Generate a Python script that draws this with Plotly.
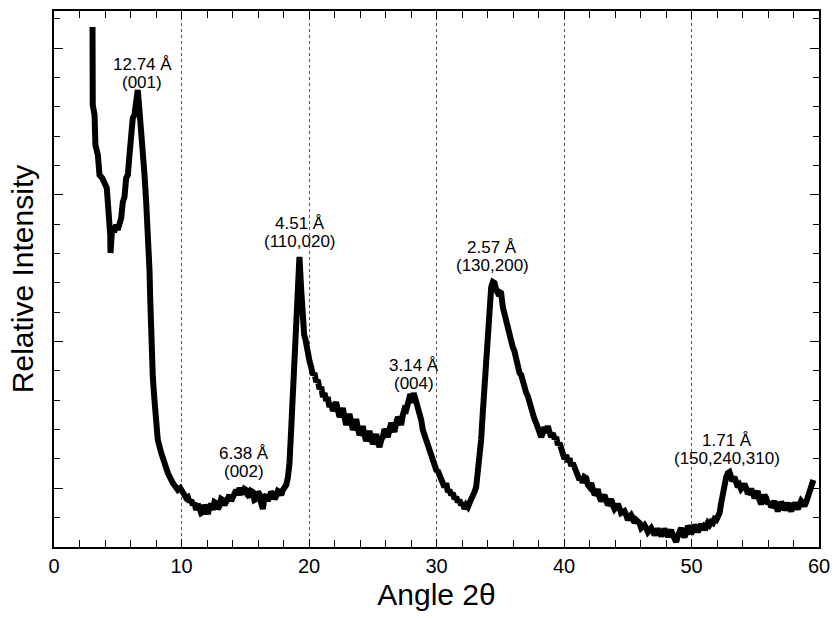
import plotly.graph_objects as go

# Diffraction pattern: angle 2theta (deg) and relative intensity (arbitrary units)
# each source line of angle_2theta corresponds to the same line of intensity
angle_2theta = [
    3.02, 3.04, 3.18, 3.25, 3.44, 3.57, 3.78, 3.96, 4.14, 4.22, 4.35, 4.41, 4.43,
    4.56, 4.71, 4.88, 5.00, 5.14, 5.27, 5.40, 5.53, 5.66, 5.79, 5.92, 6.05, 6.18,
    6.31, 6.45, 6.57, 6.65, 6.71, 6.84, 6.96, 7.10, 7.23, 7.36, 7.41, 7.49, 7.55,
    7.62, 7.75, 7.88, 8.02, 8.14, 8.41, 8.67, 8.93, 9.32, 9.71, 9.90, 10.10, 10.24,
    10.37, 10.50, 10.63, 10.76, 10.89, 11.02, 11.15, 11.28, 11.41, 11.54, 11.67, 11.80,
    11.94, 12.07, 12.20, 12.33, 12.45, 12.58, 12.72, 12.85, 12.98, 13.11, 13.24, 13.37,
    13.50, 13.63, 13.76, 13.89, 14.02, 14.15, 14.29, 14.42, 14.55, 14.68, 14.81, 14.94,
    15.07, 15.20, 15.33, 15.46, 15.59, 15.72, 15.86, 15.99, 16.12, 16.25, 16.38, 16.51,
    16.64, 16.77, 16.90, 17.03, 17.16, 17.30, 17.43, 17.56, 17.69, 17.82, 17.95, 18.08,
    18.21, 18.34, 18.47, 18.60, 18.73, 18.86, 19.00, 19.12, 19.25, 19.39,
    19.51, 19.62, 19.73, 19.82, 19.91, 20.04, 20.17, 20.30, 20.43, 20.56, 20.69, 20.82,
    20.96, 21.09, 21.22, 21.35, 21.47, 21.60, 21.74, 21.87, 22.00, 22.13, 22.26, 22.40,
    22.53, 22.65, 22.78, 22.91, 23.04, 23.17, 23.31, 23.44, 23.57, 23.70, 23.83, 23.96,
    24.09, 24.22, 24.35, 24.48, 24.61, 24.74, 24.88, 25.01, 25.14, 25.27, 25.40, 25.53,
    25.66, 25.79, 25.92, 26.05, 26.18, 26.31, 26.44, 26.57, 26.70, 26.84, 26.97, 27.10,
    27.23, 27.36, 27.49, 27.62, 27.75, 27.88, 27.95, 28.01, 28.08, 28.14, 28.21, 28.30,
    28.41, 28.53, 28.67, 28.80, 28.93, 29.06, 29.19, 29.32, 29.45, 29.58, 29.71, 29.84,
    29.98, 30.11, 30.24, 30.37, 30.49, 30.62, 30.76, 30.89, 31.02, 31.15, 31.28, 31.41,
    31.55, 31.67, 31.80, 31.93, 32.06, 32.20, 32.33, 32.46, 32.59, 32.72, 32.85, 32.98,
    33.11, 33.37, 33.50, 33.63, 33.76, 33.90, 34.02, 34.16, 34.29, 34.42, 34.55, 34.68,
    34.81, 34.94, 35.07, 35.20, 35.27, 35.33, 35.40, 35.46, 35.60, 35.73, 35.85, 35.98,
    36.11, 36.25, 36.38, 36.51, 36.64, 36.77, 36.90, 37.04, 37.16, 37.29, 37.42, 37.55,
    37.68, 37.82, 37.95, 38.08, 38.21, 38.34, 38.47, 38.60, 38.73, 38.86, 38.99, 39.12,
    39.26, 39.39, 39.52, 39.65, 39.78, 39.91, 40.04, 40.17, 40.30, 40.43, 40.56, 40.69,
    40.82, 40.96, 41.09, 41.22, 41.35, 41.47, 41.60, 41.74, 41.87, 42.00, 42.13, 42.26,
    42.40, 42.53, 42.65, 42.78, 42.91, 43.04, 43.17, 43.31, 43.44, 43.57, 43.70, 43.83,
    43.96, 44.09, 44.22, 44.35, 44.48, 44.61, 44.74, 44.88, 45.01, 45.14, 45.27, 45.40,
    45.53, 45.66, 45.79, 45.92, 46.05, 46.18, 46.31, 46.45, 46.58, 46.71, 46.84, 46.97,
    47.10, 47.23, 47.36, 47.49, 47.62, 47.75, 47.88, 48.02, 48.15, 48.27, 48.40, 48.53,
    48.67, 48.80, 48.93, 49.06, 49.19, 49.32, 49.45, 49.59, 49.72, 49.84, 49.97, 50.10,
    50.23, 50.37, 50.50, 50.63, 50.76, 50.89, 51.02, 51.15, 51.28, 51.41, 51.54, 51.67,
    51.80, 51.94, 52.07, 52.20, 52.33, 52.45, 52.59, 52.72, 52.85, 52.98, 53.11, 53.18,
    53.24, 53.37, 53.50, 53.63, 53.76, 53.89, 54.02, 54.15, 54.29, 54.42, 54.55, 54.68,
    54.81, 54.94, 55.07, 55.20, 55.33, 55.46, 55.59, 55.72, 55.86, 55.99, 56.12, 56.25,
    56.38, 56.51, 56.64, 56.77, 56.90, 57.03, 57.16, 57.30, 57.43, 57.56, 57.69, 57.82,
    57.95, 58.08, 58.21, 58.34, 58.47, 58.60, 58.73, 58.86, 59.00, 59.12, 59.25, 59.38,
    59.47, 59.56,
]
intensity = [
    520, 442, 432, 402, 392, 372, 369, 365, 359, 345, 325, 312, 294,
    319, 315, 322, 317, 325, 329, 345, 350, 369, 372, 392, 412, 429,
    432, 445, 457, 445, 432, 419, 399, 372, 345, 319, 297, 277, 247,
    204, 170, 147, 124, 107, 94, 84, 74, 64, 57, 59, 54, 52,
    49, 50, 45, 47, 42, 44, 37, 43, 40, 34, 35, 42,
    38, 33, 40, 43, 37, 45, 44, 38, 41, 48, 47, 42,
    45, 50, 52, 46, 50, 55, 57, 52, 59, 55, 53, 58,
    57, 52, 50, 56, 55, 47, 48, 55, 53, 44, 38, 50,
    52, 46, 49, 55, 53, 48, 51, 56, 55, 52, 57, 60,
    62, 69, 84, 117, 150, 197, 237, 270, 290, 257,
    224, 212, 207, 198, 194, 186, 180, 172, 174, 165, 167, 158,
    160, 150, 154, 146, 150, 140, 144, 136, 140, 145, 137, 130,
    134, 139, 130, 122, 127, 133, 125, 117, 122, 128, 119, 112,
    115, 121, 112, 106, 110, 116, 109, 103, 107, 113, 105, 100,
    107, 110, 118, 114, 110, 117, 124, 120, 115, 124, 130, 127,
    122, 132, 138, 137, 143, 147, 153, 149, 144, 149, 154, 150,
    145, 140, 137, 127, 117, 112, 104, 99, 94, 91, 87, 82,
    77, 76, 72, 70, 67, 60, 64, 55, 57, 52, 54, 48,
    50, 45, 47, 42, 44, 38, 42, 40, 44, 47, 50, 55,
    60, 87, 107, 134, 160, 187, 220, 244, 260, 265, 264, 257,
    254, 255, 254, 240, 236, 234, 229, 227, 222, 214, 208, 200,
    196, 187, 182, 174, 172, 164, 160, 154, 151, 144, 140, 134,
    128, 124, 119, 117, 110, 114, 120, 114, 121, 115, 110, 114,
    108, 110, 102, 104, 98, 97, 88, 92, 85, 89, 81, 84,
    79, 74, 70, 67, 70, 64, 70, 69, 62, 60, 64, 57,
    52, 54, 58, 50, 46, 49, 52, 47, 42, 44, 48, 42,
    38, 40, 43, 39, 34, 35, 36, 32, 27, 30, 32, 29,
    24, 27, 25, 24, 19, 20, 22, 19, 15, 17, 19, 16,
    12, 15, 18, 15, 11, 14, 18, 15, 10, 14, 17, 12,
    9, 5, 11, 14, 19, 13, 10, 14, 21, 19, 13, 17,
    22, 19, 15, 19, 23, 17, 21, 20, 24, 22, 25, 24,
    28, 27, 30, 34, 44, 54, 64, 70, 74, 75, 70, 66,
    67, 70, 65, 60, 62, 58, 60, 63, 59, 53, 55, 58,
    54, 49, 52, 56, 47, 43, 47, 52, 49, 43, 45, 40,
    42, 46, 40, 36, 40, 45, 42, 37, 40, 44, 39, 36,
    40, 44, 41, 38, 42, 46, 44, 41, 45, 50, 57, 64,
    66, 67,
]

# Peak labels (d-spacing and Miller indices)
peak_x = [6.94, 14.94, 19.33, 28.2, 34.39, 52.75]
peak_y = [474, 84.5, 315, 173, 291, 97.5]
peak_d = ["12.74 Å", "6.38 Å", "4.51 Å", "3.14 Å", "2.57 Å", "1.71 Å"]
peak_hkl = ["(001)", "(002)", "(110,020)", "(004)", "(130,200)", "(150,240,310)"]

x_ticks = [0, 10, 20, 30, 40, 50, 60]
y_unit = 536 / 18.27
y_major = [2 * y_unit, 7 * y_unit, 12 * y_unit, 17 * y_unit]

FONT = "Liberation Sans, Arial, Helvetica, sans-serif"

fig = go.Figure()
fig.add_trace(go.Scatter(
    x=angle_2theta, y=intensity, mode="lines",
    line=dict(color="black", width=6, shape="linear"),
    showlegend=False, hoverinfo="skip",
))

for px_, py_, d, h in zip(peak_x, peak_y, peak_d, peak_hkl):
    fig.add_annotation(
        x=px_, y=py_, xref="x", yref="y", text=d, yshift=9,
        showarrow=False, font=dict(family=FONT, size=17, color="black"),
    )
    fig.add_annotation(
        x=px_, y=py_, xref="x", yref="y", text=h, yshift=-9,
        showarrow=False, font=dict(family=FONT, size=17, color="black"),
    )

fig.update_layout(
    width=835, height=619,
    margin=dict(l=54, r=16, t=11, b=72, autoexpand=False),
    paper_bgcolor="white", plot_bgcolor="white",
    font=dict(family=FONT, color="black"),
    xaxis=dict(
        range=[0, 60], tickmode="array", tickvals=x_ticks,
        ticks="inside", ticklen=8, tickwidth=1.2, tickcolor="black",
        showline=True, linecolor="black", linewidth=1.5, mirror="ticks",
        showgrid=True, gridcolor="#555555", griddash="dot", gridwidth=1,
        zeroline=False,
        tickfont=dict(family=FONT, size=20, color="black"),
        minor=dict(tickmode="linear", tick0=0, dtick=2, ticks="inside",
                   ticklen=7, tickwidth=1.2, tickcolor="black", showgrid=False),
        title=dict(text="Angle 2θ", font=dict(family=FONT, size=30, color="black"),
                   standoff=8),
    ),
    yaxis=dict(
        range=[0, 536], tickmode="array", tickvals=y_major, showticklabels=False,
        ticks="inside", ticklen=9, tickwidth=1.2, tickcolor="black",
        showline=True, linecolor="black", linewidth=1.5, mirror="ticks",
        showgrid=False, zeroline=False,
        minor=dict(tickmode="linear", tick0=0, dtick=y_unit, ticks="inside",
                   ticklen=6, tickwidth=1.2, tickcolor="black", showgrid=False),
        title=dict(text="Relative Intensity", font=dict(family=FONT, size=30, color="black"),
                   standoff=10),
    ),
)

fig.write_html("out.html")
